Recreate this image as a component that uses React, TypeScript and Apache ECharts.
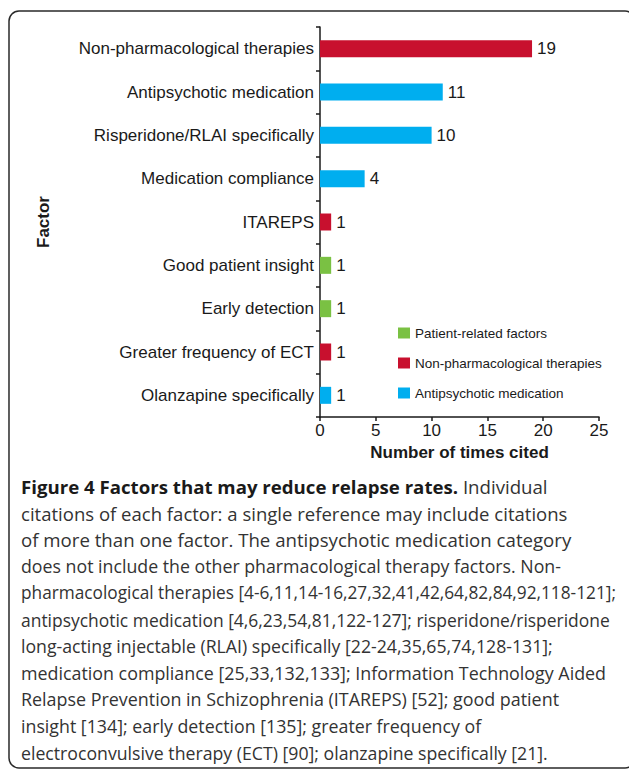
import React, { useEffect, useRef } from "react";
import * as echarts from "echarts";

const categories = [
  "Non-pharmacological therapies",
  "Antipsychotic medication",
  "Risperidone/RLAI specifically",
  "Medication compliance",
  "ITAREPS",
  "Good patient insight",
  "Early detection",
  "Greater frequency of ECT",
  "Olanzapine specifically",
];
const values = [19, 11, 10, 4, 1, 1, 1, 1, 1];
const groupOf = [
  "Non-pharmacological therapies",
  "Antipsychotic medication",
  "Antipsychotic medication",
  "Antipsychotic medication",
  "Non-pharmacological therapies",
  "Patient-related factors",
  "Patient-related factors",
  "Non-pharmacological therapies",
  "Antipsychotic medication",
];
const groups = ["Patient-related factors", "Non-pharmacological therapies", "Antipsychotic medication"];
const groupColors = ["#7ac143", "#c8102e", "#00aeef"];
const xTicks = { min: 0, max: 25, interval: 5 };

const captionLines = [
  "{b|Figure 4 Factors that may reduce relapse rates.} Individual",
  "citations of each factor: a single reference may include citations",
  "of more than one factor. The antipsychotic medication category",
  "does not include the other pharmacological therapy factors. Non-",
  "pharmacological therapies [4-6,11,14-16,27,32,41,42,64,82,84,92,118-121];",
  "antipsychotic medication [4,6,23,54,81,122-127]; risperidone/risperidone",
  "long-acting injectable (RLAI) specifically [22-24,35,65,74,128-131];",
  "medication compliance [25,33,132,133]; Information Technology Aided",
  "Relapse Prevention in Schizophrenia (ITAREPS) [52]; good patient",
  "insight [134]; early detection [135]; greater frequency of",
  "electroconvulsive therapy (ECT) [90]; olanzapine specifically [21].",
];
// per-line font sizes chosen so each caption line spans the same width as in the original
const captionSizes = [18.65, 18.55, 18.65, 17.75, 17.25, 17.45, 17.7, 17.85, 17.9, 17.8, 17.7];

const FONT = "'Liberation Sans', Arial, sans-serif";
const CAP_FONT = "'Open Sans', sans-serif";

export default function App() {
  const ref = useRef<HTMLDivElement>(null);
  useEffect(() => {
    if (!ref.current) return;
    const chart = echarts.init(ref.current, undefined, { renderer: "svg" });
    const series = groups.map((g, gi) => ({
      name: g,
      type: "bar",
      stack: "f",
      barWidth: 17,
      itemStyle: { color: groupColors[gi] },
      label: {
        show: true,
        position: "right",
        distance: 5,
        fontSize: 17,
        fontFamily: FONT,
        color: "#1a1a1a",
      },
      data: values.map((v, i) => (groupOf[i] === g ? v : null)),
    }));
    const caption = captionLines.map((t, i) => ({
      type: "text",
      x: 21,
      y: 486.5 + i * 26.6,
      style: {
        text: t,
        fontSize: captionSizes[i],
        fontFamily: CAP_FONT,
        fill: "#333333",
        align: "left",
        verticalAlign: "middle",
        rich: {
          b: { fontSize: captionSizes[i], fontFamily: CAP_FONT, fontWeight: "bold", fill: "#1a1a1a" },
        },
      },
    }));
    chart.setOption({
      animation: false,
      backgroundColor: "#ffffff",
      grid: { left: 320, right: 30, top: 27, bottom: 353, containLabel: false },
      legend: {
        orient: "vertical",
        left: 393,
        top: 321,
        itemWidth: 12,
        itemHeight: 11,
        itemGap: 16,
        icon: "rect",
        data: groups,
        textStyle: { fontSize: 13.5, fontFamily: FONT, color: "#1a1a1a" },
      },
      xAxis: {
        type: "value",
        min: xTicks.min,
        max: xTicks.max,
        interval: xTicks.interval,
        name: "Number of times cited",
        nameLocation: "middle",
        nameGap: 26,
        nameTextStyle: { fontSize: 17, fontWeight: "bold", fontFamily: FONT, color: "#1a1a1a" },
        axisLine: { show: true, lineStyle: { color: "#1a1a1a", width: 1.5 } },
        axisTick: { show: true, length: 4, lineStyle: { color: "#1a1a1a", width: 1.5 } },
        axisLabel: { fontSize: 17, fontFamily: FONT, color: "#1a1a1a", margin: 5 },
        splitLine: { show: false },
      },
      yAxis: {
        type: "category",
        inverse: true,
        data: categories,
        name: "Factor",
        nameLocation: "middle",
        nameRotate: 90,
        nameGap: 268,
        nameTextStyle: { fontSize: 17, fontWeight: "bold", fontFamily: FONT, color: "#1a1a1a" },
        axisLine: { show: true, lineStyle: { color: "#1a1a1a", width: 1.5 } },
        axisTick: { show: true, length: 4, lineStyle: { color: "#1a1a1a", width: 1.5 } },
        axisLabel: { fontSize: 17, fontFamily: FONT, color: "#1a1a1a", margin: 6 },
      },
      series,
      graphic: [
        {
          type: "rect",
          shape: { x: 9, y: 11, width: 626, height: 757, r: 10 },
          style: { fill: "none", stroke: "#2a2a2a", lineWidth: 1.5 },
          silent: true,
        },
        ...caption,
      ],
    });
    return () => chart.dispose();
  }, []);
  return (
    <div
      ref={ref}
      style={{ position: "absolute", left: 0, top: 0, width: 629, height: 770 }}
    />
  );
}
